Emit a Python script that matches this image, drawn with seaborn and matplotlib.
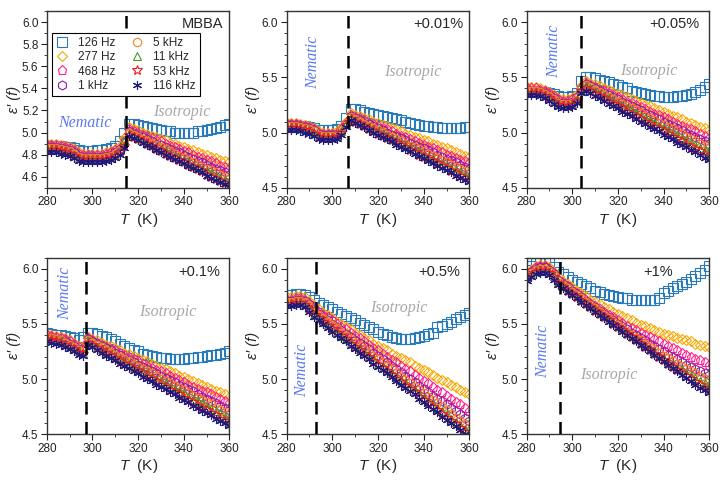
import numpy as np
import pandas as pd
import matplotlib
matplotlib.use('Agg')
import matplotlib.pyplot as plt
import matplotlib.ticker as ticker
import seaborn as sns

# temperature grid (K)
temps = [280, 282, 284, 286, 288, 290, 292, 294, 296, 298, 300, 302, 304, 306,
         308, 310, 312, 314, 316, 318, 320, 322, 324, 326, 328, 330, 332, 334,
         336, 338, 340, 342, 344, 346, 348, 350, 352, 354, 356, 358, 360]

freqs = ['126 Hz', '277 Hz', '468 Hz', '1 kHz', '5 kHz', '11 kHz', '53 kHz', '116 kHz']

panel_labels = ['MBBA', '+0.01%', '+0.05%', '+0.1%', '+0.5%', '+1%']
t_ni = [314.5, 307, 304, 297, 293, 294.5]

# eps'(f) per panel, one list per frequency (order as freqs)
eps_mbba = [
    [4.88, 4.88, 4.88, 4.88, 4.87, 4.87, 4.86, 4.84, 4.83, 4.83, 4.83, 4.84, 4.84, 4.85, 4.86, 4.88, 4.92, 5.00,
     5.08, 5.08, 5.07, 5.06, 5.05, 5.04, 5.03, 5.02, 5.01, 5.01, 5.00, 5.00, 5.00, 5.00, 5.00, 5.01, 5.01, 5.02, 5.03, 5.04, 5.05, 5.07, 5.08],
    [4.90, 4.90, 4.90, 4.89, 4.88, 4.87, 4.85, 4.82, 4.81, 4.81, 4.81, 4.81, 4.81, 4.82, 4.83, 4.85, 4.88, 4.95,
     5.05, 5.03, 5.02, 5.00, 4.99, 4.97, 4.96, 4.94, 4.93, 4.91, 4.90, 4.88, 4.87, 4.85, 4.84, 4.82, 4.81, 4.80, 4.78, 4.77, 4.75, 4.74, 4.73],
    [4.89, 4.89, 4.89, 4.88, 4.87, 4.86, 4.84, 4.81, 4.80, 4.80, 4.80, 4.80, 4.80, 4.81, 4.82, 4.84, 4.86, 4.92,
     5.03, 5.01, 5.00, 4.98, 4.96, 4.95, 4.93, 4.92, 4.90, 4.88, 4.87, 4.85, 4.83, 4.82, 4.80, 4.78, 4.77, 4.75, 4.74, 4.72, 4.70, 4.69, 4.67],
    [4.87, 4.87, 4.87, 4.86, 4.85, 4.84, 4.82, 4.79, 4.78, 4.78, 4.78, 4.78, 4.78, 4.79, 4.80, 4.82, 4.85, 4.91,
     5.01, 4.99, 4.97, 4.96, 4.94, 4.92, 4.90, 4.89, 4.87, 4.85, 4.83, 4.82, 4.80, 4.78, 4.76, 4.74, 4.73, 4.71, 4.69, 4.67, 4.66, 4.64, 4.62],
    [4.86, 4.86, 4.86, 4.85, 4.84, 4.83, 4.81, 4.78, 4.77, 4.77, 4.77, 4.77, 4.77, 4.78, 4.79, 4.81, 4.84, 4.93,
     5.00, 4.98, 4.96, 4.94, 4.92, 4.90, 4.89, 4.87, 4.85, 4.83, 4.81, 4.79, 4.77, 4.75, 4.73, 4.71, 4.69, 4.67, 4.66, 4.64, 4.62, 4.60, 4.58],
    [4.85, 4.85, 4.85, 4.84, 4.83, 4.82, 4.80, 4.77, 4.76, 4.76, 4.76, 4.76, 4.76, 4.77, 4.78, 4.80, 4.84, 4.92,
     4.99, 4.97, 4.95, 4.93, 4.91, 4.89, 4.87, 4.85, 4.83, 4.81, 4.79, 4.77, 4.75, 4.73, 4.71, 4.69, 4.67, 4.65, 4.63, 4.61, 4.59, 4.57, 4.55],
    [4.84, 4.84, 4.84, 4.83, 4.82, 4.81, 4.79, 4.76, 4.75, 4.75, 4.75, 4.75, 4.75, 4.76, 4.77, 4.79, 4.82, 4.88,
     4.98, 4.96, 4.94, 4.92, 4.90, 4.88, 4.85, 4.83, 4.81, 4.79, 4.77, 4.75, 4.73, 4.71, 4.69, 4.67, 4.65, 4.62, 4.60, 4.58, 4.56, 4.54, 4.52],
    [4.82, 4.82, 4.82, 4.81, 4.80, 4.79, 4.77, 4.74, 4.73, 4.73, 4.73, 4.73, 4.73, 4.74, 4.75, 4.77, 4.80, 4.86,
     4.97, 4.95, 4.93, 4.91, 4.89, 4.87, 4.84, 4.82, 4.80, 4.78, 4.76, 4.74, 4.72, 4.70, 4.68, 4.66, 4.64, 4.61, 4.59, 4.57, 4.55, 4.53, 4.51],
]

eps_001 = [
    [5.07, 5.07, 5.07, 5.06, 5.06, 5.05, 5.04, 5.02, 5.02, 5.02, 5.02, 5.03, 5.06, 5.13,
     5.21, 5.21, 5.20, 5.19, 5.18, 5.17, 5.16, 5.15, 5.14, 5.13, 5.12, 5.11, 5.10, 5.09, 5.08, 5.07, 5.06, 5.06, 5.05, 5.05, 5.04, 5.04, 5.04, 5.04, 5.04, 5.05, 5.05],
    [5.09, 5.09, 5.09, 5.08, 5.07, 5.06, 5.04, 5.01, 5.00, 5.00, 5.00, 5.01, 5.04, 5.10,
     5.18, 5.16, 5.15, 5.13, 5.12, 5.10, 5.09, 5.07, 5.06, 5.04, 5.03, 5.01, 4.99, 4.98, 4.96, 4.95, 4.93, 4.92, 4.90, 4.89, 4.87, 4.86, 4.84, 4.82, 4.81, 4.79, 4.78],
    [5.08, 5.08, 5.08, 5.07, 5.06, 5.05, 5.03, 5.00, 4.99, 4.99, 4.99, 5.00, 5.03, 5.09,
     5.16, 5.14, 5.13, 5.11, 5.09, 5.08, 5.06, 5.04, 5.03, 5.01, 4.99, 4.97, 4.96, 4.94, 4.92, 4.91, 4.89, 4.87, 4.86, 4.84, 4.82, 4.80, 4.79, 4.77, 4.75, 4.74, 4.72],
    [5.07, 5.07, 5.07, 5.06, 5.05, 5.04, 5.02, 4.99, 4.98, 4.98, 4.98, 4.99, 5.02, 5.08,
     5.15, 5.13, 5.11, 5.09, 5.08, 5.06, 5.04, 5.02, 5.00, 4.98, 4.97, 4.95, 4.93, 4.91, 4.89, 4.87, 4.86, 4.84, 4.82, 4.80, 4.78, 4.76, 4.75, 4.73, 4.71, 4.69, 4.67],
    [5.06, 5.06, 5.06, 5.05, 5.04, 5.03, 5.01, 4.98, 4.97, 4.97, 4.97, 4.98, 5.02, 5.09,
     5.14, 5.12, 5.10, 5.08, 5.06, 5.04, 5.02, 5.00, 4.98, 4.96, 4.94, 4.92, 4.90, 4.88, 4.87, 4.85, 4.83, 4.81, 4.79, 4.77, 4.75, 4.73, 4.71, 4.69, 4.67, 4.65, 4.63],
    [5.05, 5.05, 5.05, 5.04, 5.03, 5.02, 5.00, 4.97, 4.96, 4.96, 4.96, 4.97, 5.01, 5.08,
     5.13, 5.11, 5.09, 5.07, 5.05, 5.03, 5.01, 4.99, 4.97, 4.95, 4.93, 4.91, 4.89, 4.87, 4.84, 4.82, 4.80, 4.78, 4.76, 4.74, 4.72, 4.70, 4.68, 4.66, 4.64, 4.62, 4.60],
    [5.04, 5.04, 5.04, 5.03, 5.02, 5.01, 4.99, 4.96, 4.95, 4.95, 4.95, 4.96, 5.00, 5.07,
     5.12, 5.10, 5.08, 5.06, 5.03, 5.01, 4.99, 4.97, 4.95, 4.93, 4.91, 4.89, 4.87, 4.84, 4.82, 4.80, 4.78, 4.76, 4.74, 4.72, 4.70, 4.68, 4.65, 4.63, 4.61, 4.59, 4.57],
    [5.02, 5.02, 5.02, 5.01, 5.00, 4.99, 4.97, 4.94, 4.93, 4.93, 4.93, 4.94, 4.98, 5.05,
     5.11, 5.09, 5.07, 5.05, 5.02, 5.00, 4.98, 4.96, 4.94, 4.92, 4.89, 4.87, 4.85, 4.83, 4.81, 4.79, 4.77, 4.74, 4.72, 4.70, 4.68, 4.66, 4.64, 4.61, 4.59, 4.57, 4.55],
]

eps_005 = [
    [5.38, 5.38, 5.38, 5.37, 5.37, 5.36, 5.35, 5.33, 5.32, 5.32, 5.33, 5.36, 5.47,
     5.50, 5.50, 5.49, 5.48, 5.47, 5.46, 5.44, 5.43, 5.41, 5.40, 5.38, 5.37, 5.36, 5.35, 5.34, 5.33, 5.33, 5.32, 5.32, 5.32, 5.33, 5.33, 5.34, 5.35, 5.37, 5.39, 5.41, 5.44],
    [5.41, 5.41, 5.41, 5.40, 5.39, 5.37, 5.34, 5.31, 5.30, 5.30, 5.31, 5.35, 5.42,
     5.47, 5.45, 5.44, 5.42, 5.40, 5.39, 5.37, 5.35, 5.34, 5.32, 5.30, 5.29, 5.27, 5.25, 5.24, 5.22, 5.20, 5.19, 5.17, 5.15, 5.14, 5.12, 5.10, 5.09, 5.07, 5.05, 5.04, 5.02],
    [5.40, 5.40, 5.40, 5.39, 5.38, 5.36, 5.33, 5.30, 5.29, 5.29, 5.30, 5.33, 5.41,
     5.45, 5.43, 5.41, 5.39, 5.38, 5.36, 5.34, 5.32, 5.30, 5.28, 5.27, 5.25, 5.23, 5.21, 5.19, 5.17, 5.16, 5.14, 5.12, 5.10, 5.08, 5.06, 5.04, 5.03, 5.01, 4.99, 4.97, 4.95],
    [5.38, 5.38, 5.38, 5.37, 5.36, 5.34, 5.31, 5.28, 5.27, 5.27, 5.28, 5.32, 5.40,
     5.44, 5.42, 5.40, 5.38, 5.36, 5.34, 5.32, 5.30, 5.28, 5.26, 5.24, 5.22, 5.20, 5.18, 5.16, 5.14, 5.12, 5.10, 5.08, 5.06, 5.04, 5.02, 5.00, 4.98, 4.96, 4.94, 4.92, 4.90],
    [5.38, 5.38, 5.38, 5.37, 5.35, 5.33, 5.30, 5.27, 5.26, 5.26, 5.27, 5.31, 5.40,
     5.43, 5.41, 5.39, 5.37, 5.34, 5.32, 5.30, 5.28, 5.26, 5.24, 5.22, 5.20, 5.18, 5.15, 5.13, 5.11, 5.09, 5.07, 5.05, 5.03, 5.01, 4.99, 4.96, 4.94, 4.92, 4.90, 4.88, 4.86],
    [5.37, 5.37, 5.37, 5.36, 5.34, 5.32, 5.29, 5.26, 5.25, 5.25, 5.26, 5.30, 5.39,
     5.42, 5.40, 5.38, 5.35, 5.33, 5.31, 5.29, 5.26, 5.24, 5.22, 5.20, 5.18, 5.15, 5.13, 5.11, 5.09, 5.06, 5.04, 5.02, 5.00, 4.98, 4.95, 4.93, 4.91, 4.89, 4.86, 4.84, 4.82],
    [5.36, 5.36, 5.36, 5.35, 5.33, 5.31, 5.28, 5.25, 5.24, 5.24, 5.25, 5.29, 5.38,
     5.40, 5.38, 5.35, 5.33, 5.31, 5.28, 5.26, 5.24, 5.22, 5.19, 5.17, 5.15, 5.12, 5.10, 5.08, 5.05, 5.03, 5.01, 4.99, 4.96, 4.94, 4.92, 4.89, 4.87, 4.85, 4.83, 4.80, 4.78],
    [5.34, 5.34, 5.34, 5.33, 5.31, 5.29, 5.26, 5.23, 5.22, 5.22, 5.23, 5.27, 5.36,
     5.38, 5.36, 5.33, 5.31, 5.29, 5.26, 5.24, 5.22, 5.19, 5.17, 5.15, 5.12, 5.10, 5.08, 5.05, 5.03, 5.01, 4.98, 4.96, 4.94, 4.91, 4.89, 4.87, 4.84, 4.82, 4.80, 4.77, 4.75],
]

eps_01 = [
    [5.42, 5.41, 5.40, 5.40, 5.39, 5.38, 5.37, 5.35, 5.38,
     5.42, 5.42, 5.41, 5.39, 5.38, 5.36, 5.34, 5.32, 5.30, 5.28, 5.26, 5.25, 5.23, 5.22, 5.21, 5.20, 5.19, 5.19, 5.18, 5.18, 5.18, 5.18, 5.19, 5.19, 5.20, 5.20, 5.21, 5.22, 5.22, 5.23, 5.24, 5.25],
    [5.41, 5.40, 5.39, 5.38, 5.37, 5.35, 5.33, 5.30, 5.29,
     5.38, 5.36, 5.35, 5.33, 5.31, 5.30, 5.28, 5.26, 5.24, 5.23, 5.21, 5.19, 5.17, 5.16, 5.14, 5.12, 5.10, 5.09, 5.07, 5.05, 5.03, 5.02, 5.00, 4.98, 4.96, 4.95, 4.93, 4.91, 4.89, 4.88, 4.86, 4.84],
    [5.40, 5.39, 5.38, 5.37, 5.36, 5.34, 5.32, 5.29, 5.28,
     5.37, 5.35, 5.33, 5.31, 5.29, 5.27, 5.26, 5.24, 5.22, 5.20, 5.18, 5.16, 5.14, 5.12, 5.10, 5.08, 5.07, 5.05, 5.03, 5.01, 4.99, 4.97, 4.95, 4.93, 4.91, 4.89, 4.88, 4.86, 4.84, 4.82, 4.80, 4.78],
    [5.38, 5.37, 5.36, 5.35, 5.34, 5.32, 5.30, 5.27, 5.26,
     5.36, 5.34, 5.32, 5.30, 5.28, 5.26, 5.24, 5.22, 5.19, 5.17, 5.15, 5.13, 5.11, 5.09, 5.07, 5.05, 5.03, 5.01, 4.99, 4.97, 4.95, 4.93, 4.91, 4.89, 4.86, 4.84, 4.82, 4.80, 4.78, 4.76, 4.74, 4.72],
    [5.38, 5.37, 5.36, 5.35, 5.33, 5.31, 5.29, 5.26, 5.25,
     5.35, 5.33, 5.31, 5.29, 5.26, 5.24, 5.22, 5.20, 5.18, 5.16, 5.13, 5.11, 5.09, 5.07, 5.05, 5.03, 5.00, 4.98, 4.96, 4.94, 4.92, 4.90, 4.87, 4.85, 4.83, 4.81, 4.79, 4.77, 4.74, 4.72, 4.70, 4.68],
    [5.37, 5.36, 5.35, 5.34, 5.32, 5.30, 5.28, 5.25, 5.24,
     5.34, 5.32, 5.29, 5.27, 5.25, 5.23, 5.20, 5.18, 5.16, 5.14, 5.11, 5.09, 5.07, 5.05, 5.02, 5.00, 4.98, 4.96, 4.93, 4.91, 4.89, 4.87, 4.84, 4.82, 4.80, 4.78, 4.75, 4.73, 4.71, 4.69, 4.66, 4.64],
    [5.36, 5.35, 5.34, 5.33, 5.31, 5.29, 5.27, 5.24, 5.23,
     5.33, 5.31, 5.28, 5.26, 5.24, 5.21, 5.19, 5.16, 5.14, 5.12, 5.09, 5.07, 5.05, 5.02, 5.00, 4.98, 4.95, 4.93, 4.90, 4.88, 4.86, 4.83, 4.81, 4.79, 4.76, 4.74, 4.72, 4.69, 4.67, 4.64, 4.62, 4.60],
    [5.34, 5.33, 5.32, 5.31, 5.29, 5.27, 5.25, 5.22, 5.21,
     5.31, 5.29, 5.26, 5.24, 5.21, 5.19, 5.17, 5.14, 5.12, 5.10, 5.07, 5.05, 5.02, 5.00, 4.98, 4.95, 4.93, 4.91, 4.88, 4.86, 4.83, 4.81, 4.79, 4.76, 4.74, 4.71, 4.69, 4.67, 4.64, 4.62, 4.60, 4.57],
]

eps_05 = [
    [5.76, 5.76, 5.77, 5.77, 5.76, 5.74, 5.72,
     5.69, 5.67, 5.65, 5.63, 5.61, 5.59, 5.57, 5.55, 5.53, 5.51, 5.49, 5.47, 5.45, 5.43, 5.41, 5.40, 5.38, 5.37, 5.36, 5.36, 5.36, 5.37, 5.38, 5.39, 5.41, 5.42, 5.47, 5.48, 5.50, 5.52, 5.54, 5.56, 5.58, 5.60],
    [5.74, 5.74, 5.75, 5.75, 5.74, 5.71, 5.67,
     5.63, 5.60, 5.58, 5.55, 5.52, 5.50, 5.47, 5.45, 5.42, 5.40, 5.37, 5.35, 5.32, 5.30, 5.28, 5.26, 5.23, 5.21, 5.19, 5.17, 5.15, 5.12, 5.10, 5.08, 5.06, 5.04, 5.01, 4.99, 4.97, 4.95, 4.93, 4.90, 4.88, 4.86],
    [5.72, 5.72, 5.73, 5.73, 5.72, 5.69, 5.65,
     5.61, 5.58, 5.56, 5.53, 5.50, 5.47, 5.45, 5.42, 5.39, 5.37, 5.34, 5.31, 5.28, 5.26, 5.23, 5.20, 5.17, 5.15, 5.12, 5.09, 5.07, 5.04, 5.01, 4.98, 4.96, 4.93, 4.90, 4.88, 4.85, 4.82, 4.79, 4.77, 4.74, 4.71],
    [5.71, 5.71, 5.72, 5.72, 5.71, 5.68, 5.63,
     5.59, 5.56, 5.53, 5.50, 5.47, 5.44, 5.41, 5.38, 5.35, 5.33, 5.30, 5.27, 5.24, 5.21, 5.18, 5.15, 5.12, 5.09, 5.06, 5.03, 5.00, 4.97, 4.94, 4.91, 4.88, 4.85, 4.82, 4.80, 4.77, 4.74, 4.71, 4.68, 4.65, 4.62],
    [5.70, 5.70, 5.71, 5.71, 5.70, 5.66, 5.61,
     5.58, 5.55, 5.52, 5.49, 5.46, 5.42, 5.39, 5.36, 5.33, 5.30, 5.27, 5.24, 5.21, 5.18, 5.15, 5.12, 5.09, 5.05, 5.02, 4.99, 4.96, 4.93, 4.90, 4.87, 4.84, 4.81, 4.78, 4.75, 4.72, 4.68, 4.65, 4.62, 4.59, 4.56],
    [5.69, 5.69, 5.70, 5.70, 5.68, 5.64, 5.58,
     5.55, 5.52, 5.49, 5.46, 5.43, 5.39, 5.36, 5.33, 5.30, 5.27, 5.24, 5.21, 5.18, 5.14, 5.11, 5.08, 5.05, 5.02, 4.99, 4.96, 4.93, 4.89, 4.86, 4.83, 4.80, 4.77, 4.74, 4.71, 4.68, 4.64, 4.61, 4.58, 4.55, 4.52],
    [5.68, 5.68, 5.69, 5.69, 5.67, 5.63, 5.58,
     5.55, 5.52, 5.48, 5.45, 5.42, 5.39, 5.36, 5.32, 5.29, 5.26, 5.23, 5.20, 5.16, 5.13, 5.10, 5.07, 5.04, 5.00, 4.97, 4.94, 4.91, 4.88, 4.84, 4.81, 4.78, 4.75, 4.72, 4.68, 4.65, 4.62, 4.59, 4.56, 4.52, 4.49],
    [5.66, 5.66, 5.67, 5.67, 5.65, 5.61, 5.56,
     5.53, 5.50, 5.46, 5.43, 5.40, 5.37, 5.34, 5.30, 5.27, 5.24, 5.21, 5.18, 5.14, 5.11, 5.08, 5.05, 5.02, 4.98, 4.95, 4.92, 4.89, 4.86, 4.82, 4.79, 4.76, 4.73, 4.70, 4.66, 4.63, 4.60, 4.57, 4.54, 4.50, 4.47],
]

eps_1 = [
    [5.99, 6.02, 6.05, 6.06, 6.06, 6.05, 6.01, 5.97,
     5.95, 5.92, 5.90, 5.88, 5.86, 5.84, 5.82, 5.80, 5.79, 5.77, 5.76, 5.75, 5.74, 5.73, 5.73, 5.72, 5.72, 5.72, 5.72, 5.72, 5.72, 5.73, 5.78, 5.80, 5.82, 5.84, 5.86, 5.88, 5.91, 5.93, 5.96, 5.99, 6.02],
    [5.96, 5.99, 6.02, 6.03, 6.03, 6.01, 5.97, 5.93,
     5.89, 5.86, 5.83, 5.80, 5.78, 5.75, 5.72, 5.70, 5.68, 5.65, 5.63, 5.61, 5.59, 5.57, 5.55, 5.53, 5.51, 5.49, 5.48, 5.46, 5.44, 5.43, 5.41, 5.40, 5.39, 5.37, 5.36, 5.35, 5.34, 5.32, 5.31, 5.30, 5.29],
    [5.95, 5.98, 6.01, 6.02, 6.02, 6.00, 5.96, 5.91,
     5.87, 5.84, 5.81, 5.78, 5.75, 5.72, 5.69, 5.66, 5.63, 5.61, 5.58, 5.56, 5.53, 5.51, 5.48, 5.46, 5.44, 5.42, 5.40, 5.38, 5.36, 5.34, 5.32, 5.30, 5.28, 5.26, 5.24, 5.22, 5.20, 5.18, 5.17, 5.15, 5.13],
    [5.94, 5.97, 6.00, 6.01, 6.01, 5.99, 5.95, 5.90,
     5.86, 5.83, 5.80, 5.77, 5.74, 5.71, 5.68, 5.65, 5.62, 5.59, 5.56, 5.53, 5.50, 5.48, 5.45, 5.42, 5.40, 5.37, 5.35, 5.32, 5.30, 5.27, 5.25, 5.22, 5.20, 5.18, 5.15, 5.13, 5.11, 5.09, 5.07, 5.05, 5.04],
    [5.93, 5.96, 5.99, 6.00, 6.00, 5.98, 5.94, 5.89,
     5.85, 5.82, 5.79, 5.76, 5.73, 5.70, 5.67, 5.64, 5.61, 5.58, 5.55, 5.52, 5.49, 5.46, 5.43, 5.40, 5.37, 5.35, 5.32, 5.29, 5.27, 5.24, 5.21, 5.19, 5.16, 5.14, 5.11, 5.09, 5.07, 5.05, 5.02, 5.00, 4.98],
    [5.92, 5.95, 5.98, 5.99, 5.99, 5.97, 5.93, 5.88,
     5.84, 5.81, 5.78, 5.75, 5.72, 5.69, 5.66, 5.63, 5.60, 5.57, 5.54, 5.51, 5.48, 5.45, 5.42, 5.39, 5.36, 5.33, 5.30, 5.27, 5.24, 5.21, 5.18, 5.15, 5.13, 5.10, 5.08, 5.05, 5.03, 5.01, 4.98, 4.96, 4.94],
    [5.91, 5.94, 5.97, 5.98, 5.98, 5.96, 5.92, 5.87,
     5.83, 5.80, 5.77, 5.74, 5.71, 5.68, 5.65, 5.62, 5.59, 5.56, 5.53, 5.50, 5.47, 5.44, 5.41, 5.38, 5.35, 5.32, 5.29, 5.26, 5.23, 5.20, 5.17, 5.14, 5.11, 5.08, 5.05, 5.03, 5.00, 4.97, 4.95, 4.92, 4.90],
    [5.89, 5.92, 5.95, 5.96, 5.96, 5.94, 5.90, 5.85,
     5.82, 5.79, 5.76, 5.73, 5.70, 5.67, 5.64, 5.61, 5.58, 5.55, 5.52, 5.49, 5.46, 5.43, 5.40, 5.37, 5.34, 5.31, 5.28, 5.25, 5.22, 5.19, 5.16, 5.13, 5.10, 5.07, 5.04, 5.01, 4.98, 4.95, 4.92, 4.90, 4.87],
]

panels = [eps_mbba, eps_001, eps_005, eps_01, eps_05, eps_1]

# label positions (T, eps), rotation
nematic_pos = [(296.7, 5.09, 0), (291.7, 5.64, 90), (292.3, 5.74, 90),
               (288.0, 5.78, 90), (286.9, 5.08, 90), (287.3, 5.25, 90)]
isotropic_pos = [(339, 5.19), (335, 5.55), (333.5, 5.56), (333, 5.61), (329, 5.64), (316, 5.04)]
label_pos = [(0.965, 0.925, 'right'), (0.965, 0.925, 'right'), (0.945, 0.925, 'right'),
             (0.95, 0.92, 'right'), (0.95, 0.92, 'right'), (0.72, 0.92, 'center')]

colors = ['#2a7ab9', '#f5a800', '#ff1f8e', '#8e1f9e', '#f5821f', '#3f9a22', '#ee1c25', '#1b1b80']
markers = ['s', 'D', 'p', 'h', 'o', '^', '*', (6, 2, 0)]
msizes = [6.5, 5.2, 6.5, 6.5, 6.0, 6.0, 7.5, 6.5]

sns.set_style('ticks')
plt.rcParams['font.family'] = ['Liberation Sans', 'DejaVu Sans']
plt.rcParams['mathtext.fontset'] = 'custom'
plt.rcParams['mathtext.rm'] = 'Liberation Sans'
plt.rcParams['mathtext.it'] = 'Liberation Sans:italic'

fig, axes = plt.subplots(2, 3, figsize=(7.2, 4.83), dpi=100)
fig.subplots_adjust(left=0.065, right=0.985, top=0.977, bottom=0.101,
                    wspace=0.313, hspace=0.395)
axes = axes.flatten()

for k, ax in enumerate(axes):
    data = panels[k]
    for j, f in enumerate(freqs):
        assert len(data[j]) == len(temps), (k, j, len(data[j]))
        df = pd.DataFrame({'T': temps, 'eps': data[j]})
        sns.lineplot(data=df, x='T', y='eps', ax=ax, color=colors[j], marker=markers[j],
                     markersize=msizes[j], markerfacecolor='none', markeredgecolor=colors[j],
                     markeredgewidth=0.8, linestyle='none', label=f, legend=False,
                     estimator=None, errorbar=None, sort=False)

    ax.axvline(t_ni[k], color='black', linestyle=(0, (5, 3)), linewidth=1.8, zorder=5)

    nx, ny, rot = nematic_pos[k]
    ax.text(nx, ny, 'Nematic', color='#5a78f0', fontsize=11.5, style='italic',
            family='Liberation Serif', rotation=rot, ha='center', va='center')
    ix, iy = isotropic_pos[k]
    ax.text(ix, iy, 'Isotropic', color='#a8a8a8', fontsize=11.5, style='italic',
            family='Liberation Serif', ha='center', va='center')
    lx, ly, lha = label_pos[k]
    ax.text(lx, ly, panel_labels[k], transform=ax.transAxes, fontsize=10.5,
            ha=lha, va='center')

    ax.set_xlim(280, 360)
    ax.set_ylim(4.5, 6.1)
    ax.xaxis.set_major_locator(ticker.MultipleLocator(20))
    ax.xaxis.set_minor_locator(ticker.MultipleLocator(10))
    if k == 0:
        ax.yaxis.set_major_locator(ticker.FixedLocator([4.6, 4.8, 5.0, 5.2, 5.4, 5.6, 5.8, 6.0]))
    else:
        ax.yaxis.set_major_locator(ticker.MultipleLocator(0.5))
    ax.yaxis.set_minor_locator(ticker.MultipleLocator(0.1))
    ax.yaxis.set_major_formatter(ticker.FormatStrFormatter('%.1f'))
    ax.tick_params(axis='both', which='major', direction='out', length=4, width=0.8,
                   labelsize=8.5, colors='#222222', pad=2)
    ax.tick_params(axis='both', which='minor', direction='out', length=2, width=0.6)
    for sp in ax.spines.values():
        sp.set_visible(True)
        sp.set_linewidth(1.0)
        sp.set_color('#333333')
    ax.set_xlabel('$T$  (K)', fontsize=11, labelpad=2)
    ax.set_ylabel('ε\u2032 (f)', fontsize=10.5, style='italic', labelpad=1)

leg = axes[0].legend(loc='upper left', bbox_to_anchor=(0.027, 0.878), ncol=2, fontsize=8.5,
                     frameon=True, fancybox=False, edgecolor='black', framealpha=1,
                     handlelength=1.0, handletextpad=0.9, columnspacing=1.3,
                     borderpad=0.35, labelspacing=0.2, borderaxespad=0)
leg.get_frame().set_linewidth(0.8)

fig.savefig('out.png', dpi=100)
